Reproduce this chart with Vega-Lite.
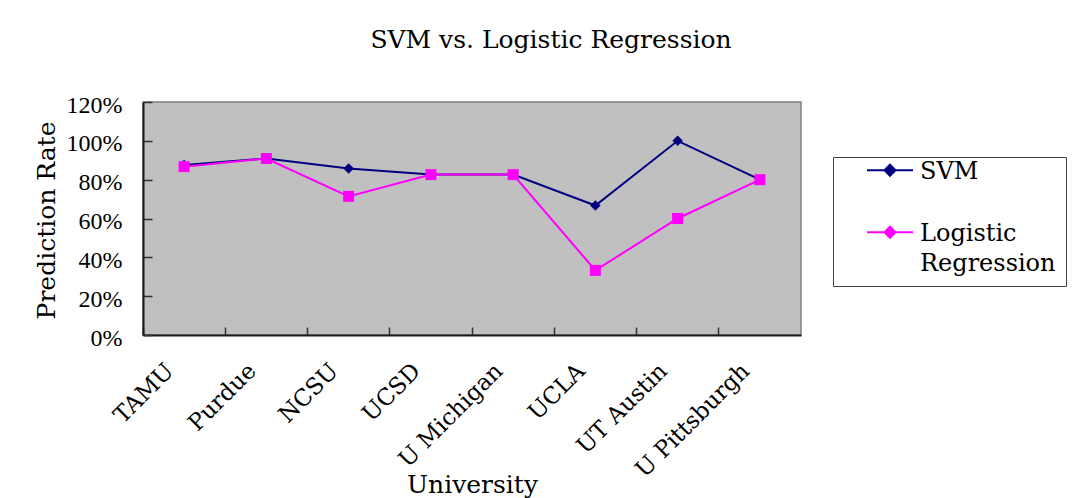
{
  "$schema": "https://vega.github.io/schema/vega-lite/v6.json",
  "width": 658,
  "height": 233,
  "autosize": {"type": "none"},
  "padding": {"left": 143, "top": 102, "right": 286, "bottom": 163},
  "background": "white",
  "config": {
    "font": "DejaVu Serif",
    "view": {"fill": "#C0C0C0", "stroke": "#808080", "strokeWidth": 1.5},
    "style": {"guide-label": {"lineHeight": 30}},
    "axis": {
      "labelFont": "DejaVu Serif",
      "titleFont": "DejaVu Serif",
      "labelFontSize": 23,
      "titleFontSize": 25,
      "labelColor": "#000",
      "titleColor": "#000",
      "titleFontWeight": "normal",
      "domainColor": "#1a1a1a",
      "domainWidth": 2,
      "tickColor": "#333",
      "tickWidth": 1.5,
      "grid": false
    }
  },
  "title": {
    "text": "SVM vs. Logistic Regression",
    "font": "DejaVu Serif",
    "fontSize": 25,
    "fontWeight": "normal",
    "color": "#000",
    "anchor": "middle",
    "frame": "group",
    "dx": 79,
    "offset": 40
  },
  "data": {
    "values": [
      {"University": "TAMU", "Model": "SVM", "Rate": 0.875},
      {"University": "Purdue", "Model": "SVM", "Rate": 0.909},
      {"University": "NCSU", "Model": "SVM", "Rate": 0.857},
      {"University": "UCSD", "Model": "SVM", "Rate": 0.826},
      {"University": "U Michigan", "Model": "SVM", "Rate": 0.826},
      {"University": "UCLA", "Model": "SVM", "Rate": 0.667},
      {"University": "UT Austin", "Model": "SVM", "Rate": 1.0},
      {"University": "U Pittsburgh", "Model": "SVM", "Rate": 0.8},
      {"University": "TAMU", "Model": "Logistic Regression", "Rate": 0.867},
      {"University": "Purdue", "Model": "Logistic Regression", "Rate": 0.909},
      {"University": "NCSU", "Model": "Logistic Regression", "Rate": 0.714},
      {"University": "UCSD", "Model": "Logistic Regression", "Rate": 0.826},
      {"University": "U Michigan", "Model": "Logistic Regression", "Rate": 0.826},
      {"University": "UCLA", "Model": "Logistic Regression", "Rate": 0.333},
      {"University": "UT Austin", "Model": "Logistic Regression", "Rate": 0.6},
      {"University": "U Pittsburgh", "Model": "Logistic Regression", "Rate": 0.8}
    ]
  },
  "encoding": {
    "x": {
      "field": "University",
      "type": "nominal",
      "sort": null,
      "scale": {"type": "band", "paddingInner": 0, "paddingOuter": 0},
      "axis": {
        "title": "University",
        "labelAngle": -45,
        "labelAlign": "right",
        "labelBaseline": "middle",
        "bandPosition": 0,
        "tickSize": -8,
        "labelPadding": 40,
        "labelOffset": -14,
        "titleY": 149,
        "titleBaseline": "middle"
      }
    },
    "y": {
      "field": "Rate",
      "type": "quantitative",
      "scale": {"domain": [0, 1.2], "nice": false, "zero": true},
      "axis": {
        "title": "Prediction Rate",
        "values": [0, 0.2, 0.4, 0.6, 0.8, 1.0, 1.2],
        "format": ".0%",
        "labelFont": "Liberation Serif",
        "labelFontSize": 24,
        "tickSize": -9,
        "labelPadding": 30,
        "labelOffset": 3,
        "titleX": -97,
        "titleY": 118,
        "titleBaseline": "middle",
        "titleAngle": -90
      }
    },
    "color": {
      "field": "Model",
      "type": "nominal",
      "scale": {"domain": ["SVM", "Logistic Regression"], "range": ["#000080", "#FF00FF"]},
      "legend": {
        "orient": "none",
        "legendX": 690,
        "legendY": 55,
        "title": null,
        "labelFont": "DejaVu Serif",
        "labelFontSize": 24,
        "labelColor": "#000",
        "labelExpr": "split(datum.label, ' ')",
        "labelBaseline": "alphabetic",
        "labelOffset": 18,
        "symbolType": "M-4.6,-1.75L4.6,-1.75M0,-2.85L1.1,-1.75L0,-0.65L-1.1,-1.75Z",
        "symbolSize": 100,
        "symbolStrokeWidth": 2,
        "symbolOffset": 35,
        "symbolOpacity": 1,
        "padding": 10,
        "rowPadding": 38,
        "strokeColor": "#404040",
        "fillColor": "white"
      }
    }
  },
  "layer": [
    {
      "mark": {"type": "line", "strokeWidth": 2}
    },
    {
      "transform": [{"filter": "datum.Model == 'SVM'"}],
      "mark": {"type": "point", "filled": true, "opacity": 1, "shape": "diamond", "size": 110}
    },
    {
      "transform": [{"filter": "datum.Model == 'Logistic Regression'"}],
      "mark": {"type": "point", "filled": true, "opacity": 1, "shape": "square", "size": 121}
    }
  ]
}
